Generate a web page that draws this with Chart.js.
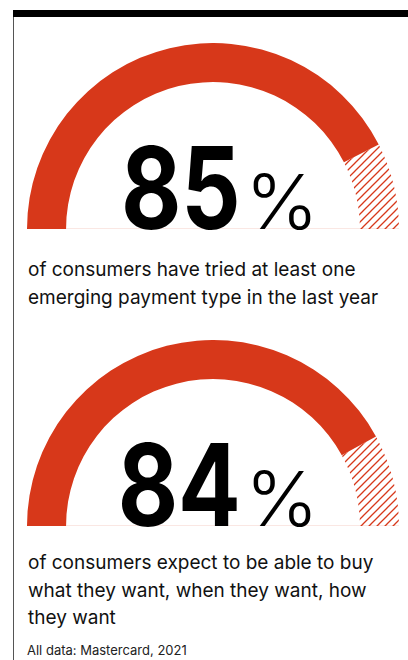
<!DOCTYPE html>
<html>
<head>
<meta charset="utf-8">
<script src="https://cdn.jsdelivr.net/npm/chart.js@4.4.1/dist/chart.umd.min.js"></script>
<style>
  html, body { margin: 0; padding: 0; background: #fff; }
  body { width: 408px; height: 660px; position: relative; overflow: hidden; font-family: Inter, "Noto Sans", sans-serif; color: #111; }
  .topbar { position: absolute; left: 13px; top: 10px; width: 395px; height: 7px; background: #000; }
  .rule { position: absolute; left: 13px; top: 17px; width: 1px; height: 643px; background: #555; }
  .gauge { position: absolute; left: 27px; }
  .caption { position: absolute; left: 28px; font-size: 19px; line-height: 27.5px; white-space: nowrap; }
  .source { position: absolute; left: 27px; top: 642px; font-size: 13px; line-height: 16px; color: #222; white-space: nowrap; }
</style>
</head>
<body>
<div class="topbar"></div>
<div class="rule"></div>
<canvas id="gauge1" class="gauge" width="372" height="196" style="top:43px"></canvas>
<div id="caption1" class="caption" style="top:256px"></div>
<canvas id="gauge2" class="gauge" width="372" height="196" style="top:340px"></canvas>
<div id="caption2" class="caption" style="top:549px"></div>
<div id="source" class="source"></div>

<script>
// share of consumers, in percent
const shares = [85, 84];
const captionLines = [
    ['of consumers have tried at least one', 'emerging payment type in the last year'],
    ['of consumers expect to be able to buy', 'what they want, when they want, how', 'they want']
];
const sourceNote = 'All data: Mastercard, 2021';

const RED = '#d7381a';

// diagonal red hatching for the part that is left over
function makeHatch() {
    const c = document.createElement('canvas');
    c.width = 8;
    c.height = 8;
    const g = c.getContext('2d');
    g.strokeStyle = RED;
    g.lineWidth = 1.3;
    g.beginPath();
    g.moveTo(-1, 9); g.lineTo(9, -1);
    g.moveTo(-1, 1); g.lineTo(1, -1);
    g.moveTo(7, 9); g.lineTo(9, 7);
    g.stroke();
    return g.createPattern(c, 'repeat');
}

// size a string so its ink is inkHeight tall, return font size and left bearing
function fitFont(ctx, text, weight, family, inkHeight) {
    ctx.font = `${weight} 100px ${family}`;
    let m = ctx.measureText(text);
    const size = 100 * inkHeight / m.actualBoundingBoxAscent;
    ctx.font = `${weight} ${size}px ${family}`;
    m = ctx.measureText(text);
    return { size: size, left: m.actualBoundingBoxLeft, width: m.actualBoundingBoxLeft + m.actualBoundingBoxRight };
}

// big "NN%" figure drawn inside the arc
const bigNumber = {
    id: 'bigNumber',
    beforeDraw(chart) {
        const arc = chart.getDatasetMeta(0).data[0];
        const ctx = chart.ctx;
        ctx.save();
        ctx.strokeStyle = 'rgba(215,56,26,0.12)';
        ctx.lineWidth = 1;
        ctx.beginPath();
        ctx.moveTo(arc.x - arc.outerRadius, arc.y - 0.5);
        ctx.lineTo(arc.x + arc.outerRadius, arc.y - 0.5);
        ctx.stroke();
        ctx.restore();
    },
    afterDraw(chart) {
        const arc = chart.getDatasetMeta(0).data[0];
        const value = chart.data.datasets[0].data[0];
        const cx = arc.x, cy = arc.y;
        const ctx = chart.ctx;
        ctx.save();
        ctx.fillStyle = '#000';
        ctx.textAlign = 'left';
        ctx.textBaseline = 'alphabetic';

        // digits, squeezed a little and right-aligned
        const digits = String(value);
        const ref = fitFont(ctx, '85', 700, 'Inter', 84);
        const sx = 112 / ref.width;
        const d = fitFont(ctx, digits, 700, 'Inter', 84);
        ctx.save();
        ctx.translate(cx + 24 - d.width * sx, cy);
        ctx.scale(sx, 1);
        ctx.fillText(digits, d.left, 0);
        ctx.restore();

        // percent sign, lighter weight
        const p = fitFont(ctx, '%', 300, 'Inter', 56);
        const psx = 57 / p.width;
        ctx.save();
        ctx.translate(cx + 40.5, cy);
        ctx.scale(psx, 1);
        ctx.fillText('%', p.left, 0);
        ctx.restore();

        ctx.restore();
    }
};

const hatch = makeHatch();

function createGauge(canvasId, value) {
    const ctx = document.getElementById(canvasId).getContext('2d');
    return new Chart(ctx, {
        type: 'doughnut',
        data: {
            labels: ['Share', 'Rest'],
            datasets: [{
                data: [value, 100 - value],
                backgroundColor: [RED, hatch],
                borderWidth: 0,
                hoverOffset: 0
            }]
        },
        options: {
            responsive: false,
            animation: false,
            events: [],
            rotation: -90,
            circumference: 180,
            cutout: '79%',
            layout: { padding: { bottom: 10 } },
            plugins: {
                legend: { display: false },
                tooltip: { enabled: false }
            }
        },
        plugins: [bigNumber]
    });
}

createGauge('gauge1', shares[0]);
createGauge('gauge2', shares[1]);

document.getElementById('caption1').innerHTML = captionLines[0].join('<br>');
document.getElementById('caption2').innerHTML = captionLines[1].join('<br>');
document.getElementById('source').textContent = sourceNote;
</script>
</body>
</html>
